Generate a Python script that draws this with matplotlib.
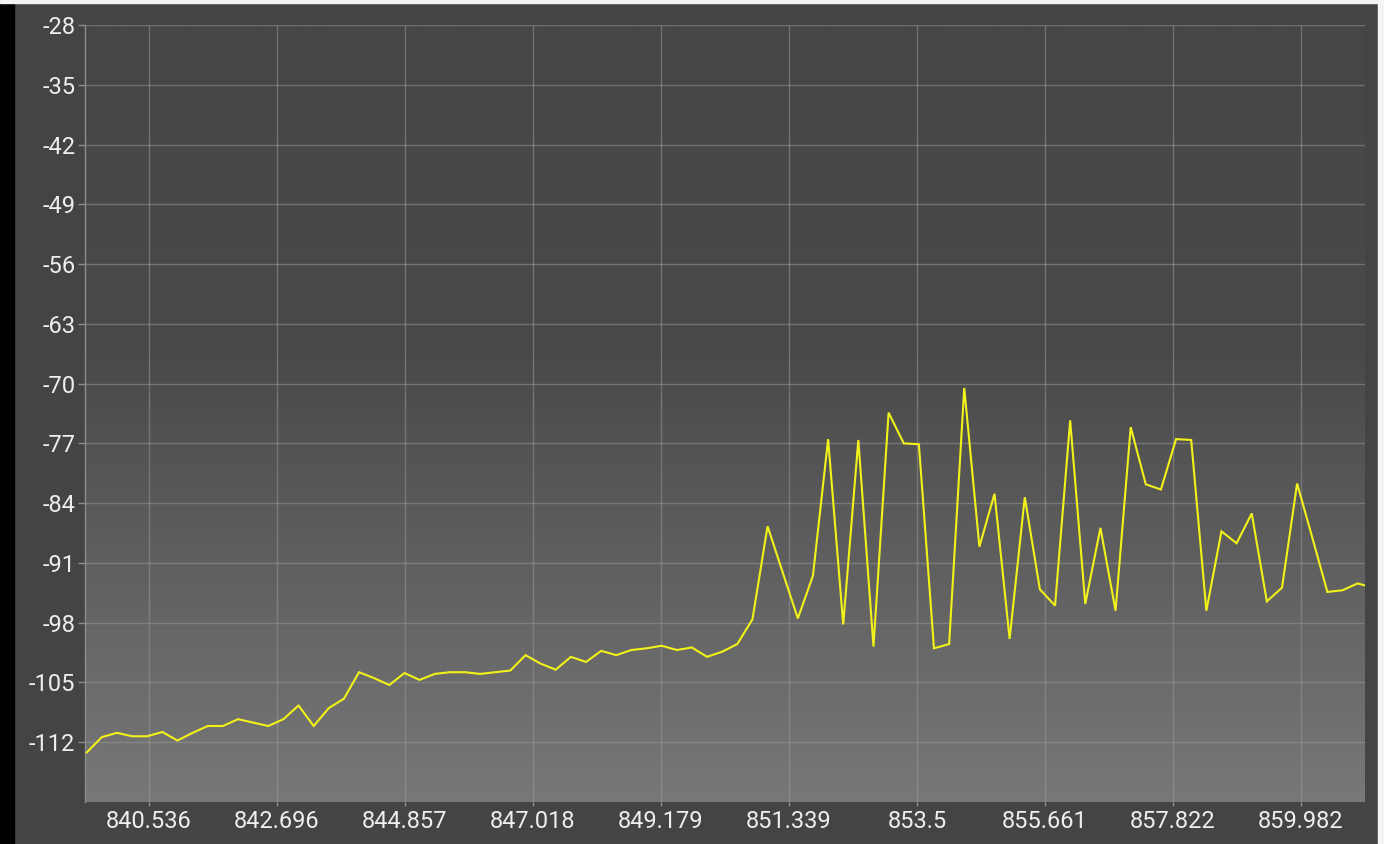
import numpy as np
import matplotlib
matplotlib.use("Agg")
import matplotlib.pyplot as plt
from matplotlib.patches import Rectangle
from matplotlib.colors import LinearSegmentedColormap

# ---- data ----
freq_mhz = [839.485, 839.740, 839.996, 840.251, 840.507, 840.762, 841.017, 841.273, 841.528, 841.784,
            842.039, 842.294, 842.550, 842.805, 843.061, 843.316, 843.571, 843.827, 844.082, 844.338,
            844.593, 844.848, 845.104, 845.359, 845.615, 845.870, 846.125, 846.381, 846.636, 846.892,
            847.147, 847.402, 847.658, 847.913, 848.169, 848.424, 848.679, 848.935, 849.190, 849.446,
            849.701, 849.956, 850.212, 850.467, 850.723, 850.978, 851.233, 851.489, 851.744, 852.000,
            852.255, 852.510, 852.766, 853.021, 853.277, 853.532, 853.787, 854.043, 854.298, 854.554,
            854.809, 855.064, 855.320, 855.575, 855.831, 856.086, 856.341, 856.597, 856.852, 857.108,
            857.363, 857.618, 857.874, 858.129, 858.385, 858.640, 858.895, 859.151, 859.406, 859.662,
            859.917, 860.172, 860.428, 860.683, 860.939, 861.194]

power_dbm = [-113.2, -111.4, -110.9, -111.3, -111.3, -110.8, -111.8, -110.9, -110.1, -110.1,
             -109.3, -109.7, -110.1, -109.3, -107.7, -110.1, -108.0, -106.9, -103.8, -104.5,
             -105.3, -103.9, -104.7, -104.0, -103.8, -103.8, -104.0, -103.8, -103.6, -101.8,
             -102.8, -103.5, -102.0, -102.6, -101.3, -101.8, -101.2, -101.0, -100.7, -101.2,
             -100.9, -102.0, -101.4, -100.5, -97.6, -86.7, -92.1, -97.5, -92.5, -76.5,
             -98.2, -76.6, -100.8, -73.4, -77.0, -77.1, -101.0, -100.5, -70.5, -89.1,
             -82.9, -99.9, -83.3, -94.1, -96.0, -74.3, -95.8, -86.9, -96.6, -75.1,
             -81.8, -82.4, -76.5, -76.6, -96.6, -87.3, -88.7, -85.2, -95.5, -93.9,
             -81.7, -88.0, -94.4, -94.2, -93.4, -93.9]

y_ticks = [-112, -105, -98, -91, -84, -77, -70, -63, -56, -49, -42, -35, -28]
x_ticks = [840.536, 842.696, 844.857, 847.018, 849.179, 851.339, 853.5, 855.661, 857.822, 859.982]
x_tick_labels = ["840.536", "842.696", "844.857", "847.018", "849.179",
                 "851.339", "853.5", "855.661", "857.822", "859.982"]

# ---- figure ----
W, H = 1384, 844
plt.rcParams['font.family'] = ['Roboto', 'DejaVu Sans']
fig = plt.figure(figsize=(W / 100, H / 100), dpi=100, facecolor="#444444")

# screen-edge decorations
fig.patches.append(Rectangle((0, 0), 14 / W, 1, transform=fig.transFigure, color="#000000", zorder=0))
fig.patches.append(Rectangle((1378 / W, 0), 6 / W, 1, transform=fig.transFigure, color="#f4f4f4", zorder=0))
fig.patches.append(Rectangle((0, 1 - 3 / H), 1, 3 / H, transform=fig.transFigure, color="#f4f4f4", zorder=0))

left, right, top, bottom = 85, 1365, 25, 802
ax = fig.add_axes([left / W, 1 - bottom / H, (right - left) / W, (bottom - top) / H])

xmin, xmax = 839.456, 861.063
ymin, ymax = -119.0, -28.0

# gradient background: dark upper part, lightening towards the bottom
grad = np.linspace(0, 1, 512).reshape(-1, 1)
cmap = LinearSegmentedColormap.from_list(
    "bg", [(0.0, "#464646"), (0.42, "#494949"), (1.0, "#787878")])
ax.imshow(grad, extent=[xmin, xmax, ymin, ymax], aspect="auto", cmap=cmap,
          origin="upper", zorder=0, interpolation="bicubic")
ax.set_xlim(xmin, xmax)
ax.set_ylim(ymin, ymax)

ax.plot(freq_mhz, power_dbm, color="#f2f21a", lw=1.5, zorder=3, solid_joinstyle="miter")

ax.set_xticks(x_ticks)
ax.set_xticklabels(x_tick_labels)
ax.set_yticks(y_ticks)
ax.set_yticklabels([str(v) for v in y_ticks])

ax.grid(True, color="#9a9a9a", alpha=0.5, lw=1.0, zorder=1)
ax.tick_params(axis="both", colors="#8c8c8c", labelcolor="#eeeeee", labelsize=17, width=1.0)
ax.tick_params(axis="y", length=5, pad=2)
ax.tick_params(axis="x", length=3, pad=3)

for s in ["top", "right", "bottom"]:
    ax.spines[s].set_visible(False)
ax.spines["left"].set_color("#8c8c8c")
ax.spines["left"].set_linewidth(1.0)

fig.savefig("out.png", dpi=100, facecolor=fig.get_facecolor())
